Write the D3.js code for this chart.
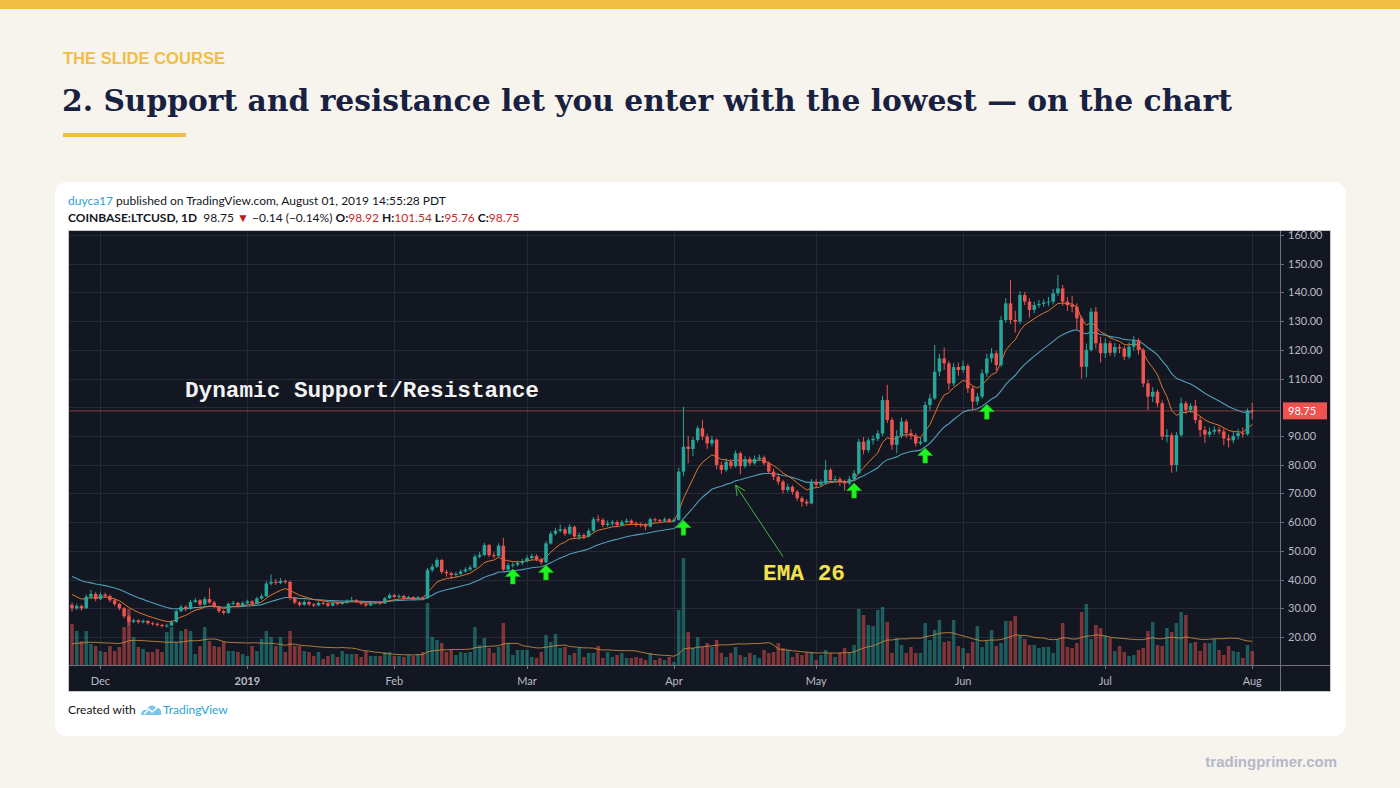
<!DOCTYPE html>
<html><head><meta charset="utf-8">
<script src="https://cdn.jsdelivr.net/npm/d3@7"></script>
<style>
html,body{margin:0;padding:0;background:#f7f4ee;}
svg{display:block;}
</style></head><body>
<svg id="c" width="1400" height="788"></svg>
<script>
// ---------------- DATA (COINBASE:LTCUSD, 1D) ----------------
const startDate = "2018-11-25";
const firstOpen = 31.2;
const close = [
30.0,30.8,30.0,34.0,35.0,33.2,34.8,34.3,32.8,31.5,
30.0,27.2,25.3,25.8,25.2,25.6,24.8,24.6,24.2,23.8,
24.0,25.2,29.0,30.5,29.8,32.2,32.8,31.3,33.2,32.0,
30.5,29.0,28.4,31.6,31.9,30.9,31.8,32.4,31.6,33.4,
34.2,38.6,39.2,38.8,39.5,39.2,33.6,32.0,31.2,32.2,
31.4,31.0,31.9,31.7,30.9,31.8,31.5,31.9,32.6,32.8,
32.2,31.6,31.0,31.8,32.0,31.7,33.5,34.6,34.0,34.3,
33.6,33.9,33.4,33.8,33.5,43.3,44.5,46.8,42.7,42.2,
41.6,42.0,42.8,43.5,44.2,48.0,48.6,52.0,48.5,48.2,
51.8,43.5,45.0,45.2,45.8,46.4,47.5,48.2,47.0,46.0,
52.6,56.0,57.0,57.5,56.0,58.4,55.0,55.5,55.0,57.0,
61.0,60.8,59.0,59.5,60.0,59.0,60.0,60.5,59.6,59.2,
59.0,58.5,61.0,60.7,60.5,61.0,60.4,60.8,77.6,86.3,
85.5,88.6,92.7,89.8,87.4,88.7,79.9,78.2,81.0,79.5,
84.0,79.5,82.0,80.5,82.0,82.5,80.5,77.6,75.8,74.1,
71.2,72.3,70.6,68.3,67.1,66.5,74.1,73.0,73.6,78.2,
74.7,75.0,74.1,73.5,75.0,77.0,88.0,85.1,88.5,89.0,
90.9,102.5,95.6,86.9,90.0,95.0,91.0,90.2,87.4,88.0,
100.8,103.1,112.4,117.0,115.3,108.3,114.0,113.0,114.4,106.6,
102.0,103.7,111.8,117.0,118.8,114.7,130.4,136.2,130.4,129.8,
139.1,136.8,133.9,135.6,136.0,136.5,136.8,139.7,141.4,136.8,
135.6,135.0,131.0,114.1,120.0,133.3,122.3,118.8,122.3,119.0,
121.0,120.5,117.6,121.1,123.4,120.0,108.3,103.7,105.4,101.4,
89.8,90.3,79.9,90.3,101.4,99.1,100.5,95.6,92.1,90.5,
91.5,92.2,91.6,89.2,88.5,90.0,91.0,90.6,98.92,98.75
];
const high = [
32.0,31.6,31.3,34.8,36.4,35.6,35.5,35.4,34.8,33.3,
31.9,30.4,27.8,26.4,26.2,26.1,25.9,25.3,25.0,24.6,
24.6,25.8,29.6,31.2,31.0,32.9,33.6,33.2,34.0,37.0,
32.6,30.9,29.5,32.0,32.6,32.2,32.4,33.0,32.8,34.0,
35.0,39.4,41.8,40.2,40.5,40.0,39.6,34.0,32.5,32.8,
32.6,31.8,32.4,32.3,32.0,32.3,32.2,32.4,33.1,34.0,
33.2,32.6,31.9,32.3,32.5,32.4,34.0,35.3,35.0,34.9,
34.7,34.4,34.2,34.3,34.1,44.0,45.5,47.6,47.2,43.4,
42.8,42.7,43.5,44.3,44.9,48.8,49.6,52.8,52.4,49.5,
52.6,54.5,45.8,46.0,46.6,47.2,48.4,49.0,48.8,47.6,
53.4,56.8,58.0,59.2,58.2,59.4,58.8,56.4,56.2,57.8,
61.8,62.4,61.4,60.6,60.8,60.6,60.8,61.3,61.0,60.2,
59.9,59.6,61.6,61.5,61.2,61.6,61.4,61.5,79.0,100.2,
90.0,89.6,93.6,95.6,90.8,90.0,89.2,81.0,82.2,82.0,
85.0,84.6,83.0,82.8,83.2,83.6,83.2,81.2,78.6,77.0,
74.8,73.4,72.8,71.2,69.0,68.0,75.0,75.0,74.8,81.6,
78.8,76.2,75.8,74.8,76.0,78.2,89.0,89.6,89.4,90.2,
92.0,104.0,107.8,96.4,92.0,96.4,95.8,92.4,91.0,89.4,
102.0,104.6,121.7,118.6,120.8,116.2,115.4,115.6,116.2,115.2,
107.4,105.0,113.2,118.6,120.6,119.6,131.8,138.0,144.3,133.6,
140.4,140.2,138.0,136.8,137.4,137.6,138.4,141.2,146.1,142.6,
138.4,138.8,136.2,131.8,122.2,134.6,135.0,124.6,124.0,123.2,
122.4,122.0,121.4,122.6,124.8,124.0,120.6,109.6,107.0,106.2,
102.4,92.4,91.2,91.4,103.4,102.2,101.4,102.6,96.8,93.4,
93.0,93.4,93.2,92.8,90.6,91.4,92.4,93.0,99.6,101.54
];
const low = [
28.8,29.4,29.2,29.8,33.2,32.4,32.9,33.6,32.1,30.8,
29.3,26.5,24.2,24.8,24.6,24.7,24.3,24.0,23.6,23.3,
23.3,23.8,25.0,28.6,29.0,29.5,31.8,30.7,31.0,31.6,
30.0,28.4,27.8,28.1,31.0,30.3,30.6,31.4,31.0,31.3,
33.0,34.0,38.0,38.2,38.4,38.5,32.8,31.4,30.6,30.9,
30.8,30.4,30.7,31.2,30.4,30.7,31.0,31.2,31.6,32.2,
31.8,31.1,30.5,30.8,31.4,31.2,31.5,33.2,33.5,33.6,
33.1,33.2,32.9,33.1,33.0,33.3,42.6,44.0,42.0,41.0,
40.2,41.0,41.6,42.4,43.0,44.0,47.4,48.2,47.8,47.5,
47.9,43.0,42.8,44.2,44.6,45.0,46.0,47.0,46.4,45.2,
45.8,52.2,55.4,56.4,55.2,55.6,54.2,53.8,54.0,54.6,
56.6,60.0,58.2,58.4,58.8,58.2,58.6,59.6,59.0,58.4,
58.2,57.2,58.2,60.0,59.8,60.0,59.8,60.0,60.5,76.0,
80.5,83.0,87.8,88.6,85.5,86.4,78.4,76.8,77.5,78.6,
79.0,76.6,78.8,79.6,80.0,81.2,79.8,76.8,74.6,73.0,
70.0,70.4,69.6,67.4,65.4,65.6,66.2,72.0,72.4,73.0,
73.8,73.8,72.6,71.0,72.8,74.4,76.6,83.6,84.2,87.0,
88.2,90.0,94.5,85.2,84.0,89.2,89.4,88.8,86.4,86.8,
87.6,99.0,102.6,110.8,113.0,106.0,107.4,111.0,112.0,105.0,
99.0,100.8,103.0,110.6,115.6,112.8,114.0,129.4,129.0,126.0,
129.0,135.6,131.2,132.8,134.6,135.0,135.2,135.8,138.8,135.4,
133.6,133.0,127.0,110.0,110.4,119.4,120.4,115.6,117.2,117.8,
117.6,118.8,116.4,116.8,119.8,118.4,107.0,99.0,101.8,100.0,
88.6,87.8,77.2,77.6,89.6,97.6,98.0,94.4,89.8,87.6,
89.6,90.4,90.6,86.8,86.0,87.4,88.8,89.4,90.2,95.76
];
// volume, units of 20k LTC
const volume = [
41,34,24,34,21,19,14,13,19,14,
18,38,56,28,18,16,13,13,16,13,
33,38,23,34,36,34,11,19,38,24,
19,18,23,14,14,13,11,9,19,14,
26,34,28,19,28,13,34,19,19,14,
13,9,13,6,9,11,8,14,11,11,
11,8,14,9,9,9,13,13,9,9,
8,10,9,11,13,62,28,25,22,13,
15,10,13,12,13,38,20,27,17,12,
18,42,22,10,15,15,15,8,7,13,
30,23,31,17,18,10,12,17,8,12,
12,19,7,13,8,10,12,7,7,8,
7,5,12,5,7,5,8,3,55,107,
33,17,28,18,22,18,25,12,8,12,
18,10,8,12,10,7,15,12,13,22,
17,15,8,12,10,13,13,5,10,15,
12,8,12,17,12,20,56,50,40,39,
55,58,43,12,27,20,12,18,12,12,
42,25,35,45,23,24,45,19,17,12,
23,39,18,24,35,19,22,44,44,49,
29,26,20,20,17,18,18,12,26,42,
18,17,22,53,61,26,40,37,29,27,
14,19,13,9,10,15,17,34,43,20,
19,37,33,42,53,50,22,23,14,22,
22,26,15,10,19,14,13,7,20,14
];
const priceTicks = [20,30,40,50,60,70,80,90,100,110,120,130,140,150,160];
const priceLabelTicks = [20,30,40,50,60,70,80,90,110,120,130,140,150,160];
const monthTicks = [["2018-12-01","Dec"],["2019-01-01","2019"],["2019-02-01","Feb"],["2019-03-01","Mar"],
  ["2019-04-01","Apr"],["2019-05-01","May"],["2019-06-01","Jun"],["2019-07-01","Jul"],["2019-08-01","Aug"]];
const lastPrice = 98.75;
const emaFastPeriod = 9, emaSlowPeriod = 26;
const emaFastSeed = 36.0, emaSlowSeed = 42.0, volMaSeed = 20, volMaPeriod = 20;
const supportArrows = [["2019-02-26",43.7],["2019-03-05",45.1],["2019-04-03",60.7],
  ["2019-05-09",73.6],["2019-05-24",85.8],["2019-06-06",101.1]];
const emaNote = {from:["2019-04-24",48.0], to:["2019-04-14",72.9]};

// ---------------- DRAW ----------------
const svg = d3.select("#c");
const W = 1400, H = 788;
svg.append("rect").attr("width",W).attr("height",H).attr("fill","#f7f4ee");
svg.append("rect").attr("width",W).attr("height",9).attr("fill","#f2bd45");

svg.append("text").attr("x",63).attr("y",64).text("THE SLIDE COURSE")
  .attr("font-family","Liberation Sans, Arial, sans-serif").attr("font-size",16).attr("font-weight",600)
  .attr("fill","#f0bd48").attr("textLength",162).attr("lengthAdjust","spacingAndGlyphs");
svg.append("text").attr("x",62).attr("y",111).text("2. Support and resistance let you enter with the lowest \u2014 on the chart")
  .attr("font-family","DejaVu Serif, serif").attr("font-size",30).attr("font-weight",700)
  .attr("fill","#18213f").attr("textLength",1170).attr("lengthAdjust","spacingAndGlyphs");
svg.append("rect").attr("x",63).attr("y",133).attr("width",123).attr("height",4).attr("fill","#f2bd45");

// card
svg.append("rect").attr("x",55).attr("y",182).attr("width",1291).attr("height",554).attr("rx",12).attr("fill","#ffffff");

const hdrFont = "Lato, 'Open Sans', sans-serif";
const t1 = svg.append("text").attr("x",68).attr("y",205).attr("font-family",hdrFont).attr("font-size",12).attr("fill","#131722");
t1.append("tspan").attr("fill","#2c9fd6").text("duyca17");
t1.append("tspan").text(" published on TradingView.com, August 01, 2019 14:55:28 PDT");

const red = "#c62828";
const t2 = svg.append("text").attr("x",68).attr("y",222).attr("font-family",hdrFont).attr("font-size",12).attr("fill","#131722");
t2.append("tspan").attr("font-weight",700).text("COINBASE:LTCUSD, 1D");
t2.append("tspan").text("\u00a0 98.75 ");
t2.append("tspan").attr("fill","#c0161c").text("\u25BC");
t2.append("tspan").text(" \u22120.14 (\u22120.14%) ");
[["O:", "98.92"],["H:","101.54"],["L:","95.76"],["C:","98.75"]].forEach(([k,v],j)=>{
  t2.append("tspan").attr("font-weight",700).text((j? " ":"") + k);
  t2.append("tspan").attr("fill",red).text(v);
});

// chart frame
const X0 = 69, X1 = 1280, Y0 = 231, YB = 665, FR = 1330, FB = 691;
svg.append("rect").attr("x",68.5).attr("y",230.5).attr("width",1262).attr("height",461)
  .attr("fill","#131722").attr("stroke","#c9c9cc").attr("stroke-width",1);

const parse = d3.utcParse("%Y-%m-%d");
const t0 = parse(startDate);
const dates = close.map((_, i) => d3.utcDay.offset(t0, i));
const x = d3.scaleUtc().domain([t0, dates[dates.length-1]]).range([72, 72 + 4.74*(close.length-1)]);
const y = d3.scaleLinear().domain([20,160]).range([637,235]);
const yv = d3.scaleLinear().domain([0,120]).range([YB,YB-120]);

svg.append("defs").append("clipPath").attr("id","plot")
  .append("rect").attr("x",X0).attr("y",Y0).attr("width",X1-X0).attr("height",YB-Y0);

const grid = svg.append("g");
grid.selectAll("line.h").data(priceTicks).join("line")
  .attr("x1",X0).attr("x2",X1).attr("y1",d=>Math.round(y(d))+0.5).attr("y2",d=>Math.round(y(d))+0.5)
  .attr("stroke","#262a36").attr("stroke-width",1);
grid.selectAll("line.v").data(monthTicks).join("line")
  .attr("x1",d=>Math.round(x(parse(d[0])))+0.5).attr("x2",d=>Math.round(x(parse(d[0])))+0.5)
  .attr("y1",Y0).attr("y2",YB).attr("stroke","#262a36").attr("stroke-width",1);

const plot = svg.append("g").attr("clip-path","url(#plot)");
const opens = close.map((c,i)=> i ? close[i-1] : firstOpen);
const up = close.map((c,i)=> c >= opens[i]);
const GREEN = "#26a69a", RED = "#ef5350";

// volume
plot.append("g").selectAll("rect").data(volume).join("rect")
  .attr("x",(d,i)=>x(dates[i])-1.75).attr("width",3.5)
  .attr("y",d=>yv(d)).attr("height",d=>YB-yv(d))
  .attr("fill",(d,i)=> up[i] ? GREEN : RED).attr("fill-opacity",0.5);

// volume MA
const volMa = volume.map((v,i)=>{ let s=0; for(let k=i-volMaPeriod+1;k<=i;k++) s += (k>=0? volume[k] : volMaSeed); return s/volMaPeriod; });
plot.append("path").datum(volMa).attr("fill","none").attr("stroke","#c98c3e").attr("stroke-opacity",0.85).attr("stroke-width",1)
  .attr("d", d3.line().x((d,i)=>x(dates[i])).y(d=>yv(d)));

// last price line
plot.append("line").attr("x1",X0).attr("x2",X1).attr("y1",y(lastPrice)).attr("y2",y(lastPrice))
  .attr("stroke","#ef5350").attr("stroke-opacity",0.55).attr("stroke-width",1);

// EMAs
function ema(seed, period){ const k = 2/(period+1); let e = seed; return close.map(c => (e = c*k + e*(1-k))); }
const emaFast = ema(emaFastSeed, emaFastPeriod), emaSlow = ema(emaSlowSeed, emaSlowPeriod);
const lineGen = d3.line().x((d,i)=>x(dates[i])).y(d=>y(d));
plot.append("path").datum(emaSlow).attr("fill","none").attr("stroke","#4f9fb8").attr("stroke-width",1.1).attr("d",lineGen);
plot.append("path").datum(emaFast).attr("fill","none").attr("stroke","#e0762c").attr("stroke-width",1).attr("d",lineGen);

// candles
const cg = plot.append("g");
cg.selectAll("line").data(close).join("line")
  .attr("x1",(d,i)=>x(dates[i])).attr("x2",(d,i)=>x(dates[i]))
  .attr("y1",(d,i)=>y(high[i])).attr("y2",(d,i)=>y(low[i]))
  .attr("stroke",(d,i)=> up[i] ? GREEN : RED).attr("stroke-width",1);
cg.selectAll("rect").data(close).join("rect")
  .attr("x",(d,i)=>x(dates[i])-1.75).attr("width",3.5)
  .attr("y",(d,i)=>y(Math.max(d,opens[i])))
  .attr("height",(d,i)=>Math.max(1, Math.abs(y(d)-y(opens[i]))))
  .attr("fill",(d,i)=> up[i] ? GREEN : RED);

// axes lines
svg.append("line").attr("x1",X0).attr("x2",FR).attr("y1",YB+0.5).attr("y2",YB+0.5).attr("stroke","#6f727c");
svg.append("line").attr("x1",X1+0.5).attr("x2",X1+0.5).attr("y1",Y0).attr("y2",FB).attr("stroke","#6f727c");

const axFont = "Lato, 'Noto Sans', sans-serif";
// price axis
const pa = svg.append("g");
pa.selectAll("line").data(priceLabelTicks).join("line")
  .attr("x1",X1).attr("x2",X1+4).attr("y1",d=>Math.round(y(d))+0.5).attr("y2",d=>Math.round(y(d))+0.5).attr("stroke","#6f727c");
pa.selectAll("text").data(priceLabelTicks).join("text")
  .attr("x",X1+8).attr("y",d=>y(d)+4).text(d=>d3.format(".2f")(d))
  .attr("font-family",axFont).attr("font-size",11).attr("fill","#b8bbc4");
pa.append("rect").attr("x",X1+3).attr("y",y(lastPrice)-8.5).attr("width",44).attr("height",17).attr("fill","#ef5350");
pa.append("text").attr("x",X1+8).attr("y",y(lastPrice)+4).text(d3.format(".2f")(lastPrice))
  .attr("font-family",axFont).attr("font-size",11).attr("fill","#ffffff");

// time axis
const ta = svg.append("g");
ta.selectAll("line").data(monthTicks).join("line")
  .attr("x1",d=>Math.round(x(parse(d[0])))+0.5).attr("x2",d=>Math.round(x(parse(d[0])))+0.5)
  .attr("y1",YB).attr("y2",YB+4).attr("stroke","#6f727c");
ta.selectAll("text").data(monthTicks).join("text")
  .attr("x",d=>x(parse(d[0]))).attr("y",YB+20).attr("text-anchor","middle").text(d=>d[1])
  .attr("font-family",axFont).attr("font-size",11).attr("font-weight",d=>d[1]==="2019"?700:400).attr("fill","#b8bbc4");

// annotations
const ann = svg.append("g");
ann.append("text").attr("x",185).attr("y",397).text("Dynamic Support/Resistance")
  .attr("font-family","Liberation Mono, 'DejaVu Sans Mono', monospace").attr("font-size",22).attr("font-weight",700)
  .attr("fill","#f2f2f2").attr("textLength",354).attr("lengthAdjust","spacingAndGlyphs");
ann.append("text").attr("x",763).attr("y",580).text("EMA 26")
  .attr("font-family","Liberation Mono, 'DejaVu Sans Mono', monospace").attr("font-size",22).attr("font-weight",700)
  .attr("fill","#f3e24a").attr("textLength",82).attr("lengthAdjust","spacingAndGlyphs");

const fx = x(parse(emaNote.from[0])), fy = y(emaNote.from[1]);
const tx = x(parse(emaNote.to[0])), ty = y(emaNote.to[1]);
ann.append("line").attr("x1",fx).attr("y1",fy).attr("x2",tx).attr("y2",ty).attr("stroke","#3dbb3d").attr("stroke-width",1);
const ang = Math.atan2(fy-ty, fx-tx);
[ang+0.45, ang-0.45].forEach(a=>{
  ann.append("line").attr("x1",tx).attr("y1",ty).attr("x2",tx+11*Math.cos(a)).attr("y2",ty+11*Math.sin(a))
    .attr("stroke","#3dbb3d").attr("stroke-width",1);
});

ann.selectAll("path.arrow").data(supportArrows).join("path")
  .attr("transform",d=>`translate(${x(parse(d[0]))},${y(d[1])})`)
  .attr("d","M0,0 L7.5,7.5 L2.3,7.5 L2.3,15 L-2.3,15 L-2.3,7.5 L-7.5,7.5 Z")
  .attr("fill","#1ef51e").attr("stroke","#12c012").attr("stroke-width",0.6);

// footer
const ft = svg.append("text").attr("x",68).attr("y",714).attr("font-family",hdrFont).attr("font-size",12).attr("fill","#131722");
ft.text("Created with");
const logo = svg.append("g").attr("transform","translate(141,703)");
logo.append("path").attr("d","M0,12 C0,8 3,6 6,7 C7,2 13,1 15,5 C19,4 21,8 20,12 Z").attr("fill","#7cc5ea");
logo.append("path").attr("d","M3,11 L8,6 L11,9 L17,4").attr("fill","none").attr("stroke","#ffffff").attr("stroke-width",1.4);
svg.append("text").attr("x",163).attr("y",714).text("TradingView").attr("font-family",hdrFont).attr("font-size",12).attr("fill","#2c9fd6");

svg.append("text").attr("x",1337).attr("y",767).attr("text-anchor","end").text("tradingprimer.com")
  .attr("font-family","Liberation Sans, Arial, sans-serif").attr("font-size",15).attr("font-weight",700).attr("fill","#b6b8c6");
</script>
</body></html>
